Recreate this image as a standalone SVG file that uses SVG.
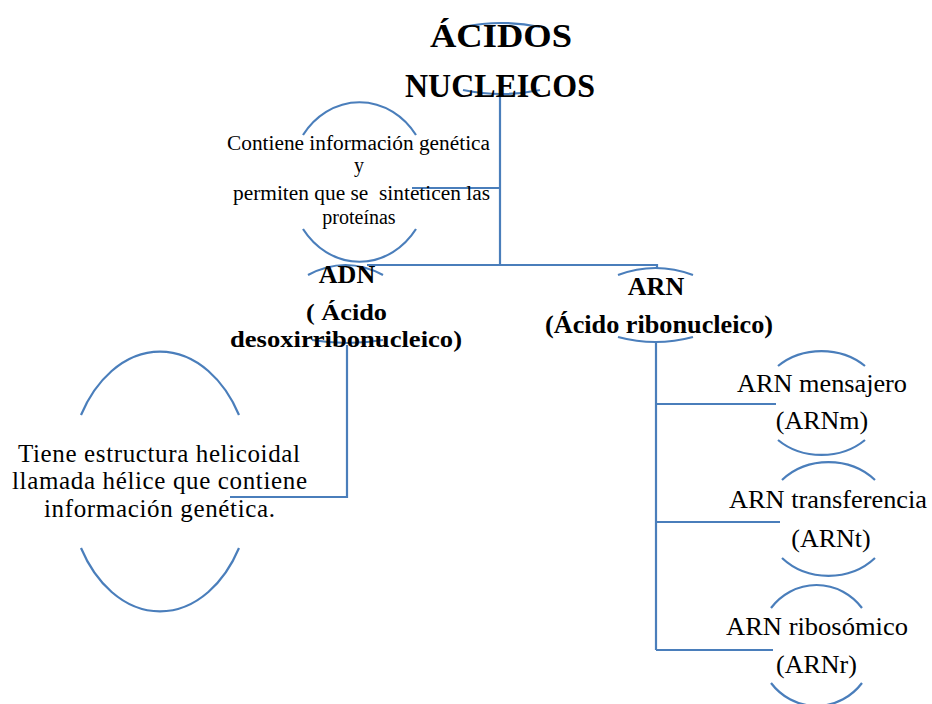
<svg xmlns="http://www.w3.org/2000/svg" width="932" height="704" viewBox="0 0 932 704">
  <style>
    .ln { fill: none; stroke: #4A7EBB; stroke-width: 2.2; }
    .t { font-family: "Liberation Serif", "Times New Roman", serif; fill: #000; text-anchor: middle; white-space: pre; }
    .b { font-weight: bold; }
    .s20 { font-size: 20px; }
    .s24 { font-size: 24px; }
    .s25 { font-size: 25px; }
    .s26 { font-size: 26px; }
    .s34 { font-size: 34px; }
  </style>
  <rect width="932" height="704" fill="#fff"/>

  <g id="connectors" class="ln">
    <path d="M500,94 V265"/>
    <path d="M412,188 H500"/>
    <path d="M367,265 H657 V269"/>
    <path d="M347,345 V497 H230"/>
    <path d="M656,343 V650"/>
    <path d="M656,404 H776"/>
    <path d="M656,522 H780"/>
    <path d="M656,650 H773"/>
  </g>

  <g id="title">
    <path class="ln" d="M463,27 Q501.5,19 540,27"/>
    <path class="ln" d="M463,90 Q501.5,98 540,90"/>
    <text class="t b s34" x="501" y="47" textLength="142" lengthAdjust="spacingAndGlyphs">ÁCIDOS</text>
    <text class="t b s34" x="500" y="97" textLength="190" lengthAdjust="spacingAndGlyphs">NUCLEICOS</text>
  </g>

  <g id="node-funcion">
    <path class="ln" d="M303,135 A70,80 0 0 1 416,135"/>
    <path class="ln" d="M303,229 A70,80 0 0 0 416,229"/>
    <text class="t s20" x="358.5" y="150" textLength="263" lengthAdjust="spacingAndGlyphs">Contiene información genética</text>
    <text class="t s20" x="359" y="172">y</text>
    <text class="t s20" x="361.5" y="200" textLength="257" lengthAdjust="spacingAndGlyphs">permiten que se  sinteticen las</text>
    <text class="t s20" x="359" y="224">proteínas</text>
  </g>

  <g id="node-adn">
    <path class="ln" d="M308,275 Q345.5,255 383,275"/>
    <path class="ln" d="M312,340 Q347.5,346 383,340"/>
    <text class="t b s26" x="347" y="283">ADN</text>
    <text class="t b s24" x="346.5" y="320" textLength="81" lengthAdjust="spacingAndGlyphs">( Ácido</text>
    <text class="t b s24" x="346" y="347" textLength="232" lengthAdjust="spacingAndGlyphs">desoxirribonucleico)</text>
  </g>

  <g id="node-helice">
    <path class="ln" d="M81,415 A92,130 0 0 1 239,415"/>
    <path class="ln" d="M81,548 A92,130 0 0 0 239,548"/>
    <text class="t s25" x="159" y="462" textLength="282" lengthAdjust="spacing">Tiene estructura helicoidal</text>
    <text class="t s25" x="159.5" y="489" textLength="295" lengthAdjust="spacing">llamada hélice que contiene</text>
    <text class="t s25" x="159.5" y="517" textLength="231" lengthAdjust="spacing">información genética.</text>
  </g>

  <g id="node-arn">
    <path class="ln" d="M618,275 Q655.5,261 693,275"/>
    <path class="ln" d="M618,337 Q655.5,347 693,337"/>
    <text class="t b s26" x="656" y="295">ARN</text>
    <text class="t b s26" x="659" y="333" textLength="228" lengthAdjust="spacingAndGlyphs">(Ácido ribonucleico)</text>
  </g>

  <g id="node-arnm">
    <path class="ln" d="M778,366 A62,52 0 0 1 865,366"/>
    <path class="ln" d="M778,440 A62,52 0 0 0 865,440"/>
    <text class="t s26" x="822" y="392" textLength="170" lengthAdjust="spacingAndGlyphs">ARN mensajero</text>
    <text class="t s26" x="822" y="429">(ARNm)</text>
  </g>

  <g id="node-arnt">
    <path class="ln" d="M782,480 A64,57 0 0 1 875,480"/>
    <path class="ln" d="M782,558 A64,57 0 0 0 875,558"/>
    <text class="t s26" x="828" y="508" textLength="198" lengthAdjust="spacingAndGlyphs">ARN transferencia</text>
    <text class="t s26" x="831" y="547">(ARNt)</text>
  </g>

  <g id="node-arnr">
    <path class="ln" d="M771,608 A58,60.5 0 0 1 862,608"/>
    <path class="ln" d="M771,683 A58,60.5 0 0 0 862,683"/>
    <text class="t s26" x="817" y="635" textLength="182" lengthAdjust="spacingAndGlyphs">ARN ribosómico</text>
    <text class="t s26" x="816.5" y="673">(ARNr)</text>
  </g>
</svg>
